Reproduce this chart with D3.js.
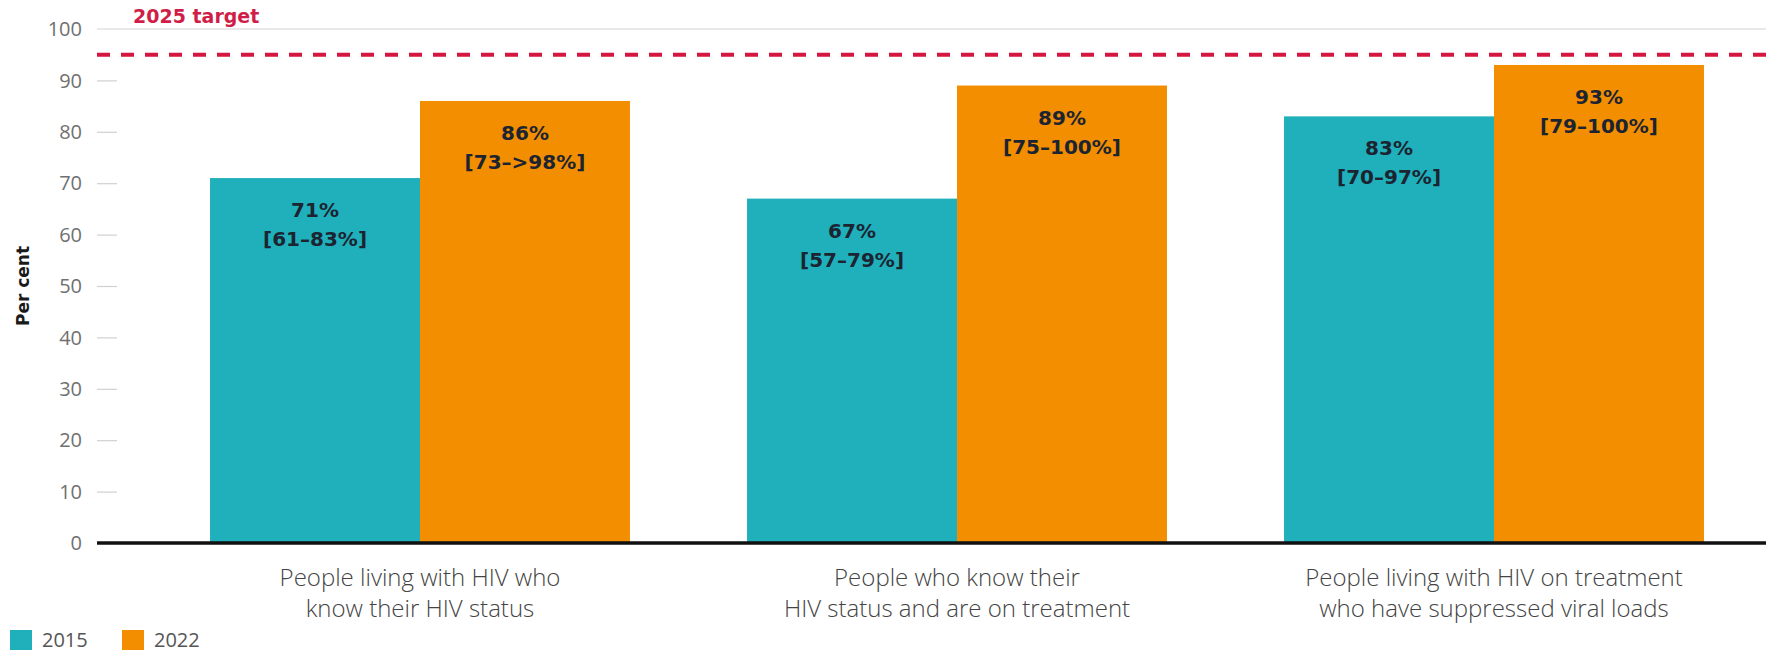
<!DOCTYPE html>
<html>
<head>
<meta charset="utf-8">
<script src="https://cdn.jsdelivr.net/npm/d3@7"></script>
<style>
  html, body { margin: 0; padding: 0; background: #fff; }
  svg { display: block; }
</style>
</head>
<body>
<svg id="chart" width="1781" height="653"></svg>
<script>
// Testing and treatment cascade, 2015 vs 2022
const categories = [
  "People living with HIV who\nknow their HIV status",
  "People who know their\nHIV status and are on treatment",
  "People living with HIV on treatment\nwho have suppressed viral loads"
];
const years = ["2015", "2022"];
const values2015 = [71, 67, 83];
const values2022 = [86, 89, 93];
const ranges2015 = ["[61–83%]", "[57–79%]", "[70–97%]"];
const ranges2022 = ["[73–>98%]", "[75–100%]", "[79–100%]"];
const yTicks = [0, 10, 20, 30, 40, 50, 60, 70, 80, 90, 100];
const targetValue = 95;
const targetLabel = "2025 target";
const yTitle = "Per cent";

const colors = { "2015": "#1fb0bb", "2022": "#f28e00" };
const labelFont = "'DejaVu Sans', sans-serif";
const textFont = "'Open Sans', 'Noto Sans', sans-serif";

const svg = d3.select("#chart");

const plotLeft = 97, plotRight = 1766;
const y = d3.scaleLinear().domain([0, 100]).range([543, 29]);

const x0 = d3.scaleBand()
  .domain(categories)
  .range([151.5, 1762.5])
  .paddingInner(0.218)
  .paddingOuter(0.109);

const x1 = d3.scaleBand()
  .domain(years)
  .range([0, x0.bandwidth()])
  .padding(0);

const rows = categories.map((c, i) => ({
  category: c,
  bars: [
    { year: "2015", value: values2015[i], range: ranges2015[i] },
    { year: "2022", value: values2022[i], range: ranges2022[i] }
  ]
}));

// Top frame line at 100
svg.append("line")
  .attr("x1", plotLeft).attr("x2", plotRight)
  .attr("y1", y(100)).attr("y2", y(100))
  .attr("stroke", "#d4d4d4").attr("stroke-width", 1.2);

// Y axis: short ticks and grey labels
const yAxis = d3.axisLeft(y)
  .tickValues(yTicks.filter(t => t > 0 && t < 100))
  .tickSize(-20)
  .tickPadding(0)
  .tickFormat("");
const yAxisG = svg.append("g")
  .attr("transform", `translate(${plotLeft},0)`)
  .call(yAxis);
yAxisG.select(".domain").remove();
yAxisG.selectAll(".tick line").attr("stroke", "#d0d0d0").attr("stroke-width", 1.2);

svg.append("g").selectAll("text")
  .data(yTicks)
  .join("text")
  .attr("x", 82)
  .attr("y", d => y(d))
  .attr("dy", "0.36em")
  .attr("text-anchor", "end")
  .attr("font-family", textFont)
  .attr("font-size", 20)
  .attr("fill", "#707070")
  .text(d => d);

// Y axis title
svg.append("text")
  .attr("transform", `translate(29,286) rotate(-90)`)
  .attr("text-anchor", "middle")
  .attr("font-family", labelFont)
  .attr("font-weight", "bold")
  .attr("font-size", 17)
  .attr("fill", "#1a1a1a")
  .text(yTitle);

// Bars
const groups = svg.append("g").selectAll("g")
  .data(rows)
  .join("g")
  .attr("transform", d => `translate(${x0(d.category)},0)`);

groups.selectAll("rect")
  .data(d => d.bars)
  .join("rect")
  .attr("x", d => x1(d.year))
  .attr("y", d => y(d.value))
  .attr("width", x1.bandwidth())
  .attr("height", d => y(0) - y(d.value))
  .attr("fill", d => colors[d.year]);

// Value labels inside bars
const valueLabels = groups.selectAll("g.vl")
  .data(d => d.bars)
  .join("g")
  .attr("class", "vl")
  .attr("transform", d => `translate(${x1(d.year) + x1.bandwidth() / 2},${y(d.value)})`);

valueLabels.append("text")
  .attr("y", 39)
  .attr("text-anchor", "middle")
  .attr("font-family", labelFont)
  .attr("font-weight", "bold")
  .attr("font-size", 20)
  .attr("fill", "#1c2431")
  .text(d => d.value + "%");

valueLabels.append("text")
  .attr("y", 68)
  .attr("text-anchor", "middle")
  .attr("font-family", labelFont)
  .attr("font-weight", "bold")
  .attr("font-size", 20)
  .attr("fill", "#1c2431")
  .text(d => d.range);

// Baseline
svg.append("line")
  .attr("x1", plotLeft).attr("x2", plotRight)
  .attr("y1", y(0)).attr("y2", y(0))
  .attr("stroke", "#111").attr("stroke-width", 3.5);

// Target line
svg.append("line")
  .attr("x1", plotLeft).attr("x2", plotRight)
  .attr("y1", y(targetValue)).attr("y2", y(targetValue))
  .attr("stroke", "#d4173f").attr("stroke-width", 4)
  .attr("stroke-dasharray", "13 11");

svg.append("text")
  .attr("x", 133)
  .attr("y", 23)
  .attr("font-family", labelFont)
  .attr("font-weight", "bold")
  .attr("font-size", 19)
  .attr("fill", "#cf1f48")
  .text(targetLabel);

// Category labels
const catLabels = svg.append("g").selectAll("text")
  .data(categories)
  .join("text")
  .attr("x", d => x0(d) + x0.bandwidth() / 2)
  .attr("y", 586)
  .attr("text-anchor", "middle")
  .attr("font-family", textFont)
  .attr("font-weight", 300)
  .attr("font-size", 24)
  .attr("fill", "#444");
catLabels.selectAll("tspan")
  .data(d => d.split("\n"))
  .join("tspan")
  .attr("x", function () { return d3.select(this.parentNode).attr("x"); })
  .attr("dy", (d, i) => i === 0 ? 0 : 31)
  .text(d => d);

// Legend
const legend = svg.append("g").selectAll("g")
  .data(years)
  .join("g")
  .attr("transform", (d, i) => `translate(${10 + i * 112},630)`);
legend.append("rect")
  .attr("width", 22).attr("height", 20)
  .attr("fill", d => colors[d]);
legend.append("text")
  .attr("x", 32).attr("y", 10)
  .attr("dy", "0.36em")
  .attr("font-family", textFont)
  .attr("font-size", 20)
  .attr("fill", "#555")
  .text(d => d);
</script>
</body>
</html>
